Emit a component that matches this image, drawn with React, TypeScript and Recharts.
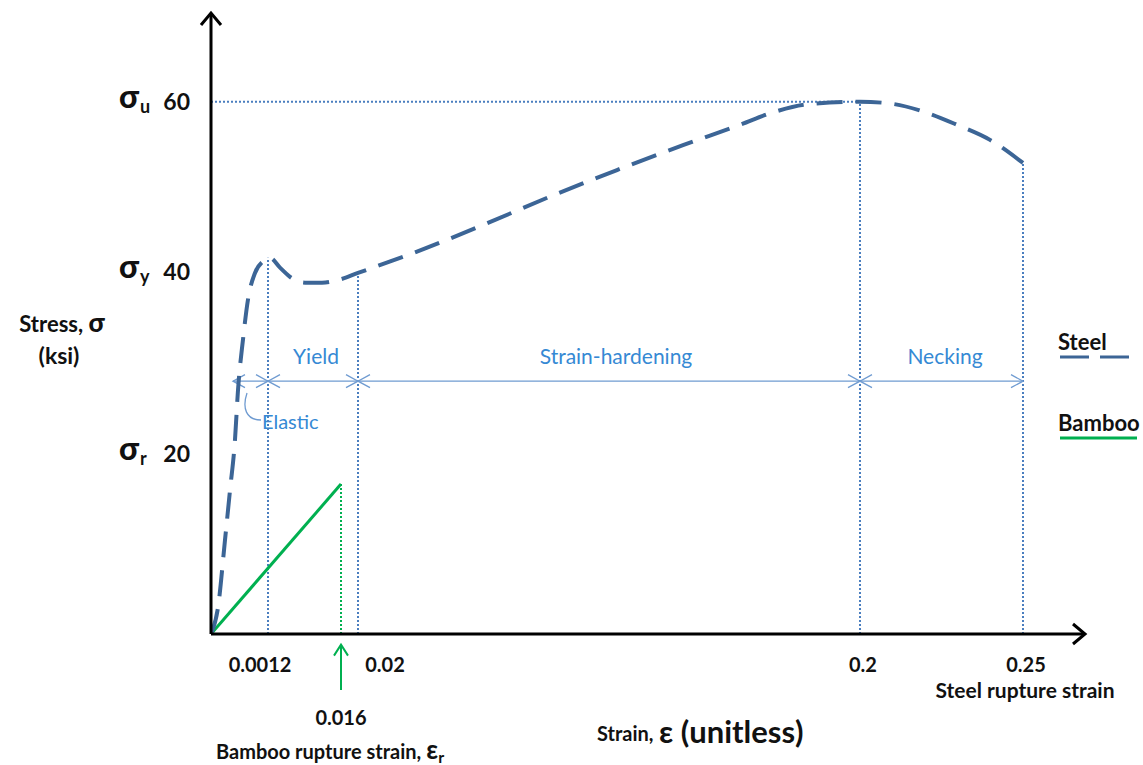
import React from 'react'
import { ComposedChart, Line, XAxis, YAxis, ReferenceLine } from 'recharts'

// schematic strain position (not to scale) vs stress in ksi
const steelX = [0, 7, 14, 19, 24, 27, 32, 37, 44, 52, 59, 69, 81, 94, 111, 127, 147, 206, 272, 339, 406, 472, 529, 562, 596, 649, 679, 712, 746, 779, 812]
const steelStress = [0, 3.0, 10.6, 16.2, 21.9, 27.5, 33.2, 37.7, 40.7, 42.0, 42.4, 41.3, 40.1, 39.6, 39.6, 39.9, 40.7, 43.1, 46.1, 49.3, 52.3, 55.1, 57.4, 58.8, 59.7, 60.0, 59.8, 58.9, 57.4, 55.7, 53.1]
const bambooX = [0, 130]
const bambooStress = [0, 16.9]

const strainTickPos = [57, 130, 147, 649, 812]
const strainTickLabels = ['0.0012', '0.016', '0.02', '0.2', '0.25']
const stressTicks = [20, 40, 60]
const stressSymbols = ['r', 'y', 'u']

const regionNames = ['Elastic', 'Yield', 'Strain-hardening', 'Necking']
const regionBounds = [22, 57, 147, 649, 812]
const regionArrowStress = 28.5

const yieldPeak = { x: 57, stress: 42.4 }
const yieldEnd = { x: 147, stress: 40.7 }
const ultimate = { x: 649, stress: 60 }
const rupture = { x: 812, stress: 53.1 }
const bambooRupture = { x: 130, stress: 16.9 }

const steelData = steelX.map((x, i) => ({ x, stress: steelStress[i] }))
const bambooData = bambooX.map((x, i) => ({ x, stress: bambooStress[i] }))

const FONT = 'Lato, "Open Sans", sans-serif'
const STEEL = '#3c6596'
const BAMBOO = '#00b050'
const DOT = '#4a7ebf'
const DIM = '#6f9bd1'
const LABEL = '#3589d4'

const xTickOffset: Record<string, { dx: number; dy: number }> = {
  '0.0012': { dx: -8, dy: 30 },
  '0.016': { dx: 0, dy: 83 },
  '0.02': { dx: 27, dy: 30 },
  '0.2': { dx: 3, dy: 30 },
  '0.25': { dx: 3, dy: 30 },
}
const yTickOffset: Record<number, number> = { 20: -3, 40: -7, 60: 0 }

const XTick = (props: any) => {
  const { x, y, index } = props
  const label = strainTickLabels[index]
  const o = xTickOffset[label] || { dx: 0, dy: 30 }
  return (
    <text x={x + o.dx} y={y + o.dy} textAnchor="middle" fontFamily={FONT} fontWeight={700} fontSize={20} fill="#111">
      {label}
    </text>
  )
}

const YTick = (props: any) => {
  const { x, y, payload, index } = props
  const dy = yTickOffset[payload.value] || 0
  return (
    <g>
      <text x={x - 13} y={y + dy + 8} textAnchor="end" fontFamily={FONT} fontWeight={700} fontSize={23} fill="#111">
        {payload.value}
      </text>
      <text x={x - 84} y={y + dy + 6} fontFamily={FONT} fontWeight={900} fontSize={32} fill="#111">
        σ
      </text>
      <text x={x - 63} y={y + dy + 11} fontFamily={FONT} fontWeight={700} fontSize={18} fill="#111">
        {stressSymbols[index]}
      </text>
    </g>
  )
}

const seg = (marker: string | null, startMarker: string | null, stroke: string, width: number, dash?: string) =>
  (p: any) => (
    <line
      x1={p.x1}
      y1={p.y1}
      x2={p.x2}
      y2={p.y2}
      stroke={stroke}
      strokeWidth={width}
      strokeDasharray={dash}
      markerEnd={marker ? `url(#${marker})` : undefined}
      markerStart={startMarker ? `url(#${startMarker})` : undefined}
    />
  )

export default function App() {
  return (
    <div style={{ position: 'absolute', left: 0, top: 0, width: 1143, height: 765, background: '#fff' }}>
      <ComposedChart width={1143} height={765} margin={{ top: 13, right: 58, bottom: 101, left: 151 }}>
        <defs>
          <marker id="axisArrow" markerWidth="20" markerHeight="24" refX="15" refY="12" orient="auto" markerUnits="userSpaceOnUse">
            <path d="M3,2 L15,12 L3,22" fill="none" stroke="#000" strokeWidth="3" />
          </marker>
          <marker id="dimArrow" markerWidth="16" markerHeight="16" refX="14" refY="8" orient="auto-start-reverse" markerUnits="userSpaceOnUse">
            <path d="M2,1.5 L14,8 L2,14.5" fill="none" stroke={DIM} strokeWidth="1.3" />
          </marker>
          <marker id="greenArrow" markerWidth="18" markerHeight="18" refX="14" refY="9" orient="auto" markerUnits="userSpaceOnUse">
            <path d="M3,2 L14,9 L3,16" fill="none" stroke={BAMBOO} strokeWidth="2" />
          </marker>
        </defs>

        <XAxis
          type="number"
          dataKey="x"
          domain={[0, 874]}
          ticks={strainTickPos}
          allowDataOverflow
          axisLine={false}
          tickLine={false}
          height={30}
          tick={<XTick />}
          interval={0}
        />
        <YAxis
          type="number"
          domain={[0, 70]}
          ticks={stressTicks}
          allowDataOverflow
          axisLine={false}
          tickLine={false}
          width={60}
          tick={<YTick />}
          interval={0}
        />

        {/* guide lines */}
        <ReferenceLine segment={[{ x: 0, y: ultimate.stress }, { x: ultimate.x, y: ultimate.stress }]} shape={seg(null, null, DOT, 2, '2 2')} />
        {[yieldPeak, yieldEnd, ultimate, rupture].map((p, i) => (
          <ReferenceLine key={i} segment={[{ x: p.x, y: 0 }, { x: p.x, y: p.stress }]} shape={seg(null, null, DOT, 2, '2 2')} />
        ))}
        <ReferenceLine
          segment={[{ x: bambooRupture.x, y: 0 }, { x: bambooRupture.x, y: bambooRupture.stress }]}
          shape={seg(null, null, BAMBOO, 2, '2 2')}
        />

        {/* region dimension arrows */}
        {regionNames.map((n, i) => (
          <ReferenceLine
            key={n}
            segment={[{ x: regionBounds[i], y: regionArrowStress }, { x: regionBounds[i + 1], y: regionArrowStress }]}
            shape={seg('dimArrow', 'dimArrow', DIM, 1.3)}
          />
        ))}

        <Line data={bambooData} dataKey="stress" type="linear" stroke={BAMBOO} strokeWidth={3} dot={false} isAnimationActive={false} />
        <Line
          data={steelData}
          dataKey="stress"
          type="monotone"
          stroke={STEEL}
          strokeWidth={4}
          strokeDasharray="26 13"
          dot={false}
          isAnimationActive={false}
        />

        {/* axes with arrows */}
        <ReferenceLine segment={[{ x: 0, y: 0 }, { x: 0, y: 70 }]} shape={seg('axisArrow', null, '#000', 3)} />
        <ReferenceLine segment={[{ x: 0, y: 0 }, { x: 874, y: 0 }]} shape={seg('axisArrow', null, '#000', 3)} />
        <ReferenceLine
          ifOverflow="visible"
          segment={[{ x: bambooRupture.x, y: -6.3 }, { x: bambooRupture.x, y: -1.2 }]}
          shape={seg('greenArrow', null, BAMBOO, 2)}
        />

        {/* annotations */}
        <g fontFamily={FONT}>
          <text x={316} y={364} textAnchor="middle" fontSize={21} fill={LABEL}>{regionNames[1]}</text>
          <text x={616} y={364} textAnchor="middle" fontSize={21} fill={LABEL}>{regionNames[2]}</text>
          <text x={945} y={364} textAnchor="middle" fontSize={21} fill={LABEL}>{regionNames[3]}</text>
          <text x={262} y={429} fontSize={20} fill={LABEL}>{regionNames[0]}</text>
          <path d="M247,393 C242,408 246,420 261,420" fill="none" stroke={DIM} strokeWidth={1.3} />

          <text x={62} y={332} textAnchor="middle" fontSize={22} fontWeight={700} fill="#111">
            Stress, <tspan fontSize={26} fontWeight={900}>σ</tspan>
          </text>
          <text x={59} y={364} textAnchor="middle" fontSize={23} fontWeight={700} fill="#111">(ksi)</text>

          <text x={597} y={741} fontSize={20} fontWeight={700} fill="#111">Strain,</text>
          <text x={659} y={743} fontSize={31} fontWeight={700} fill="#111">ε (unitless)</text>
          <text x={216} y={759} fontSize={20} fontWeight={700} fill="#111">
            Bamboo rupture strain,
            <tspan fontSize={26} dx={5}>ε</tspan>
            <tspan fontSize={16} dy={4}>r</tspan>
          </text>
          <text x={1025} y={698} textAnchor="middle" fontSize={21} fontWeight={700} fill="#111">Steel rupture strain</text>

          <text x={1058} y={350} fontSize={22} fontWeight={700} fill="#111">Steel</text>
          <line x1={1060} y1={357} x2={1132} y2={357} stroke={STEEL} strokeWidth={3} strokeDasharray="29 11" />
          <text x={1058} y={431} fontSize={22} fontWeight={700} fill="#111">Bamboo</text>
          <line x1={1060} y1={438} x2={1137} y2={438} stroke={BAMBOO} strokeWidth={3} />
        </g>
      </ComposedChart>
    </div>
  )
}
